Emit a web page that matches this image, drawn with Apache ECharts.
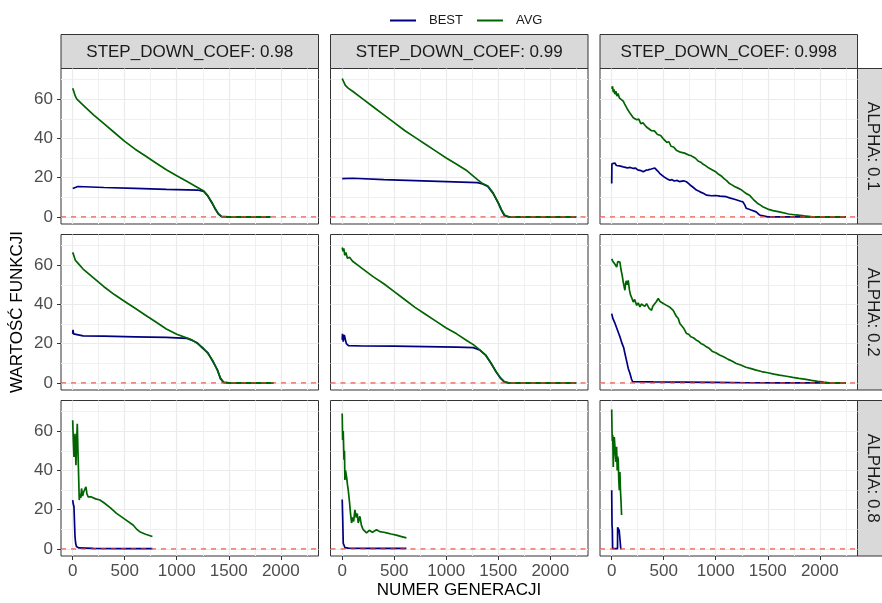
<!DOCTYPE html>
<html>
<head>
<meta charset="utf-8">
<script src="https://cdn.jsdelivr.net/npm/echarts@6/dist/echarts.min.js"></script>
<style>
  html, body { margin: 0; padding: 0; background: #fff; }
  #chart { width: 882px; height: 603px; }
</style>
</head>
<body>
<div id="chart"></div>
<script>
const colLabels = ['STEP_DOWN_COEF: 0.98', 'STEP_DOWN_COEF: 0.99', 'STEP_DOWN_COEF: 0.998']
const rowLabels = ['ALPHA: 0.1', 'ALPHA: 0.2', 'ALPHA: 0.8']
const xTicks = [0, 500, 1000, 1500, 2000]
const xMinorTicks = [250, 750, 1250, 1750, 2250]
const yTicks = [0, 20, 40, 60]
const yMinorTicks = [10, 30, 50, 70]
const refLevel = 0

// [numer generacji, wartosc funkcji]
const best_098_01 = [[0, 14.5], [5, 15.5], [50, 15.5], [300, 15], [600, 14.5], [900, 14], [1200, 13.7], [1260, 13], [1300, 10.5], [1340, 7], [1370, 4], [1400, 1.5], [1430, 0.2], [1500, 0], [1900, 0]]
const avg_098_01 = [[0, 65.5], [10, 64], [25, 61.5], [40, 60], [100, 57], [200, 52], [300, 47.5], [400, 43], [500, 38.5], [600, 34.5], [700, 31], [800, 27.5], [900, 24], [1000, 21], [1100, 18], [1200, 15], [1260, 13.2], [1300, 10.7], [1340, 7.2], [1370, 4.2], [1400, 1.7], [1430, 0.3], [1500, 0], [1900, 0]]

const best_099_01 = [[0, 19.5], [5, 20], [100, 19.7], [400, 19], [700, 18.5], [1000, 18], [1300, 17.5], [1350, 16.8], [1400, 15.5], [1450, 12], [1500, 7], [1530, 3.5], [1560, 0.6], [1600, 0], [2250, 0]]
const avg_099_01 = [[0, 70.5], [10, 69.5], [30, 67], [60, 65.5], [100, 64], [200, 60], [300, 56], [400, 52], [500, 48], [600, 44], [700, 40.5], [800, 37], [900, 33.5], [1000, 30], [1100, 26.8], [1200, 23.5], [1300, 19], [1350, 17], [1400, 15.8], [1450, 12.3], [1500, 7.3], [1530, 3.8], [1560, 1], [1600, 0.1], [1700, 0], [2250, 0]]

const best_0998_01 = [[0, 17], [2, 27], [20, 26.5], [30, 27.5], [45, 26.2], [60, 27], [75, 26], [90, 27], [111, 25.5], [130, 25.8], [150, 25], [180, 25.2], [207, 24.7], [230, 24.9], [250, 24], [280, 23.6], [303, 23], [330, 23.8], [350, 24], [380, 24.4], [415, 24.9], [440, 23.5], [463, 22.1], [480, 21.4], [500, 20.5], [515, 20.9], [530, 19.5], [559, 18.7], [580, 19], [600, 18.3], [630, 18.6], [650, 18], [690, 18.4], [718, 17.9], [740, 17], [760, 16], [785, 15], [814, 13.7], [840, 13.1], [860, 12.5], [885, 11.9], [910, 11.1], [960, 10.8], [1000, 10.9], [1040, 10.6], [1070, 10.5], [1101, 10.3], [1140, 9.6], [1180, 9], [1240, 8], [1261, 7.7], [1280, 6], [1293, 4.4], [1340, 3.5], [1388, 2.6], [1420, 1], [1436, 0.1], [1500, 0], [2250, 0]]
const avg_0998_01 = [[0, 65.3], [8, 66.5], [15, 63.5], [22, 65], [30, 62.5], [40, 64], [50, 61.5], [60, 62.8], [75, 60.5], [90, 61], [111, 59], [125, 57.5], [135, 58.5], [150, 55], [165, 55.8], [180, 52.5], [195, 53], [207, 50.5], [220, 51.5], [240, 49.5], [260, 49.8], [280, 47.5], [300, 48], [334, 45.8], [350, 46.2], [380, 44], [410, 43.8], [440, 42], [470, 41.5], [494, 39.9], [510, 40.2], [530, 38], [550, 38.3], [570, 36], [595, 35.6], [621, 34], [640, 33.8], [660, 33], [700, 32.5], [740, 31.5], [760, 31.3], [781, 30.6], [805, 29.9], [830, 28.5], [855, 27.9], [880, 26.8], [905, 26], [930, 25], [972, 23.8], [1000, 23], [1020, 22], [1050, 21], [1080, 19.5], [1105, 18.5], [1132, 17], [1160, 16.2], [1180, 15.5], [1210, 14.8], [1240, 14], [1265, 13], [1290, 12], [1324, 11.1], [1360, 9], [1400, 7], [1430, 6], [1452, 5.2], [1500, 4], [1550, 3.2], [1612, 2.6], [1700, 1.5], [1771, 1], [1850, 0.5], [1931, 0.1], [2000, 0], [2250, 0]]

const best_098_02 = [[0, 25], [3, 27], [8, 25], [15, 24.3], [100, 24], [300, 23.8], [600, 23.5], [900, 23.2], [1100, 22.7], [1150, 21.6], [1200, 20.3], [1250, 17.6], [1300, 15.3], [1350, 10.6], [1390, 6.8], [1420, 2.2], [1450, 0.3], [1500, 0], [1930, 0]]
const avg_098_02 = [[0, 66.5], [10, 65], [25, 62.5], [50, 61], [100, 58], [200, 53.5], [300, 49], [400, 45], [500, 41.5], [600, 38], [700, 34.5], [800, 31], [900, 27.5], [1000, 24.8], [1100, 22.8], [1150, 21.8], [1200, 20], [1250, 18], [1300, 15], [1350, 11], [1390, 6.5], [1420, 2.5], [1450, 0.3], [1500, 0], [1930, 0]]

const best_099_02 = [[0, 22], [3, 25], [10, 21], [20, 24.5], [40, 20], [60, 19], [200, 18.8], [500, 18.7], [800, 18.5], [1100, 18.2], [1260, 18], [1320, 16.8], [1380, 14], [1430, 10], [1480, 5.5], [1520, 2.5], [1560, 0.4], [1600, 0], [2250, 0]]
const avg_099_02 = [[0, 69], [8, 67], [15, 68.5], [25, 65], [35, 66.5], [50, 63.5], [70, 64], [100, 62], [150, 60], [200, 58], [300, 54], [400, 50.5], [500, 46.5], [600, 42.5], [700, 38.5], [800, 35], [900, 31.5], [1000, 28], [1100, 25], [1200, 21.5], [1260, 19.5], [1320, 17], [1380, 14.2], [1430, 10.2], [1480, 5.7], [1520, 2.7], [1560, 0.6], [1600, 0], [2250, 0]]

const best_0998_02 = [[0, 35.3], [10, 33], [32, 30.3], [55, 27], [79, 23.5], [100, 20], [115, 18], [127, 15], [140, 12], [159, 7.4], [175, 4.9], [190, 2], [201, 0.6], [400, 0.5], [700, 0.4], [1000, 0.3], [1300, 0.1], [1600, 0], [2250, 0]]
const avg_0998_02 = [[0, 63.2], [10, 62], [20, 61], [35, 60.2], [48, 59], [58, 61.8], [65, 62], [79, 61.5], [90, 57.5], [100, 55], [112, 51], [127, 47.2], [133, 50.5], [140, 52], [150, 50], [159, 52.2], [170, 47.5], [180, 45], [195, 43], [207, 41.2], [220, 42.5], [240, 39.5], [255, 40.8], [271, 38.7], [285, 40.2], [300, 41], [318, 39], [335, 40.4], [350, 39.6], [360, 38], [383, 37], [395, 39], [410, 40], [430, 41.5], [447, 43], [465, 41.5], [480, 41], [500, 40.3], [527, 39.5], [545, 39.2], [560, 38.5], [575, 38.9], [591, 37], [605, 35.5], [620, 34], [640, 32.8], [655, 30.3], [670, 30], [690, 28], [705, 27], [718, 25.2], [740, 24.8], [760, 23.5], [785, 23], [814, 21.8], [835, 21.2], [860, 20], [885, 19.4], [910, 18.4], [940, 17.5], [970, 16], [1000, 15.4], [1037, 14.2], [1080, 13.2], [1120, 12], [1160, 11], [1197, 9.9], [1240, 9.1], [1290, 8], [1340, 7.3], [1388, 6.5], [1440, 5.8], [1500, 5.2], [1560, 4.5], [1612, 4], [1680, 3.4], [1740, 2.8], [1800, 2.3], [1867, 1.8], [1920, 1.3], [1980, 0.8], [2040, 0.4], [2090, 0.1], [2250, 0]]

const best_098_08 = [[0, 24.9], [5, 23], [12, 21.5], [17, 14], [22, 6.3], [28, 3], [36, 1.2], [60, 0.5], [200, 0.3], [500, 0.2], [766, 0.2]]
const avg_098_08 = [[0, 65.5], [6, 55], [12, 46.8], [17, 52], [22, 58.7], [27, 50], [31, 42.6], [38, 55], [44, 63.8], [48, 55], [53, 45.1], [58, 35], [63, 24.9], [70, 28], [78, 26], [85, 30.8], [95, 27], [105, 29], [117, 28.3], [127, 31.6], [137, 28], [149, 26.5], [180, 26.5], [220, 25.5], [261, 24.9], [300, 23.5], [360, 21], [421, 18.1], [500, 15.2], [580, 12.2], [620, 9.8], [644, 8.8], [700, 7.5], [766, 6.3]]

const best_099_08 = [[0, 25.2], [5, 15], [10, 2.9], [26, 0.7], [60, 0.4], [300, 0.3], [617, 0.3]]
const avg_099_08 = [[0, 69], [4, 55.5], [10, 60], [17, 45.4], [22, 50], [26, 35.1], [32, 40], [42, 36.7], [50, 33], [58, 30], [70, 24], [80, 18], [90, 13.2], [100, 16], [110, 14], [122, 19.9], [135, 16], [145, 18], [154, 13.2], [162, 15], [170, 16.6], [185, 12], [200, 10], [234, 8.2], [260, 9.5], [290, 8.5], [330, 9.8], [360, 8.8], [400, 8.5], [426, 8.2], [470, 7.6], [520, 7], [570, 6.3], [617, 5.6]]

const best_0998_08 = [[0, 29.9], [3, 12], [6, 10], [9, 0.2], [56, 0.2], [57, 11], [65, 10.5], [72, 9.5], [80, 10], [86, 9.5], [87, 0.2], [95, 0.2]]
const avg_0998_08 = [[0, 71], [3, 60], [6, 55], [10, 58], [15, 41.8], [20, 50], [25, 57], [31, 56.2], [36, 48], [41, 44.3], [47, 52], [53, 40], [58, 47], [63, 45.1], [68, 35], [73, 29.9], [79, 39.2], [84, 30], [89, 24.9], [95, 17.3]]

// wiersze: ALPHA, kolumny: STEP_DOWN_COEF
const panels = [
  [[best_098_01, avg_098_01], [best_099_01, avg_099_01], [best_0998_01, avg_0998_01]],
  [[best_098_02, avg_098_02], [best_099_02, avg_099_02], [best_0998_02, avg_0998_02]],
  [[best_098_08, avg_098_08], [best_099_08, avg_099_08], [best_0998_08, avg_0998_08]]
]

const FONT = 'Liberation Sans, Arial, sans-serif'
const colLeft = [61, 330.5, 600]
const rowTop = [68.5, 234.5, 400.5]
const panelW = 257.5
const panelH = 155.5
const xRange = [-112.5, 2362.5]
const yRange = [-3.6, 75.6]

const grid = []
const xAxis = []
const yAxis = []
const series = []
const graphic = []

for (let r = 0; r < 3; r++) {
  for (let c = 0; c < 3; c++) {
    const g = grid.length
    grid.push({
      left: colLeft[c],
      top: rowTop[r],
      width: panelW,
      height: panelH,
      show: true,
      backgroundColor: '#fff',
      borderColor: '#333',
      borderWidth: 1
    })
    xAxis.push({
      gridIndex: g,
      type: 'value',
      min: xRange[0],
      max: xRange[1],
      axisLine: { show: false, onZero: false },
      axisTick: { show: r === 2, length: 4, lineStyle: { color: '#333' }, customValues: xTicks },
      axisLabel: { show: r === 2, customValues: xTicks, formatter: (v) => String(v), margin: 7, color: '#4D4D4D', fontSize: 17, fontFamily: FONT },
      splitLine: { show: true, lineStyle: { color: '#EBEBEB', width: 1.2 } }
    })
    xAxis.push({
      gridIndex: g,
      type: 'value',
      min: xRange[0],
      max: xRange[1],
      axisLine: { show: false, onZero: false },
      axisTick: { show: false, customValues: xMinorTicks },
      axisLabel: { show: false },
      splitLine: { show: true, lineStyle: { color: '#F0F0F0', width: 1 } }
    })
    yAxis.push({
      gridIndex: g,
      type: 'value',
      min: yRange[0],
      max: yRange[1],
      axisLine: { show: false, onZero: false },
      axisTick: { show: c === 0, length: 4, lineStyle: { color: '#333' }, customValues: yTicks },
      axisLabel: { show: c === 0, customValues: yTicks, margin: 8, color: '#4D4D4D', fontSize: 17, fontFamily: FONT },
      splitLine: { show: true, lineStyle: { color: '#EBEBEB', width: 1.2 } }
    })
    yAxis.push({
      gridIndex: g,
      type: 'value',
      min: yRange[0],
      max: yRange[1],
      axisLine: { show: false, onZero: false },
      axisTick: { show: false, customValues: yMinorTicks },
      axisLabel: { show: false },
      splitLine: { show: true, lineStyle: { color: '#F0F0F0', width: 1 } }
    })
    const [best, avg] = panels[r][c]
    series.push({
      name: 'BEST',
      type: 'line',
      xAxisIndex: 2 * g,
      yAxisIndex: 2 * g,
      data: best,
      symbol: 'none',
      color: '#000080',
      lineStyle: { color: '#000080', width: 1.7 },
      z: 3
    })
    series.push({
      name: 'AVG',
      type: 'line',
      xAxisIndex: 2 * g,
      yAxisIndex: 2 * g,
      data: avg,
      symbol: 'none',
      color: '#006400',
      lineStyle: { color: '#006400', width: 1.7 },
      z: 4
    })
    // przerywana linia odniesienia y = 0
    series.push({
      name: 'ZERO',
      type: 'line',
      xAxisIndex: 2 * g,
      yAxisIndex: 2 * g,
      data: [[xRange[0], refLevel], [xRange[1], refLevel]],
      symbol: 'none',
      silent: true,
      color: '#E8453C',
      lineStyle: { color: '#E8453C', type: [5, 5], width: 1.3, opacity: 0.85 },
      z: 5
    })
  }
}

// paski z opisem kolumn (u gory)
for (let c = 0; c < 3; c++) {
  graphic.push({
    type: 'rect',
    shape: { x: colLeft[c], y: 34.5, width: panelW, height: 34 },
    style: { fill: '#D9D9D9', stroke: '#333', lineWidth: 1 }
  })
  graphic.push({
    type: 'text',
    x: colLeft[c] + panelW / 2,
    y: 52,
    style: { text: colLabels[c], fill: '#1A1A1A', font: '17px ' + FONT, textAlign: 'center', textVerticalAlign: 'middle' }
  })
}
// paski z opisem wierszy (z prawej)
for (let r = 0; r < 3; r++) {
  graphic.push({
    type: 'rect',
    shape: { x: 857.5, y: rowTop[r], width: 36, height: panelH },
    style: { fill: '#D9D9D9', stroke: '#333', lineWidth: 1 }
  })
  graphic.push({
    type: 'text',
    x: 873,
    y: rowTop[r] + panelH / 2,
    rotation: -Math.PI / 2,
    style: { text: rowLabels[r], fill: '#1A1A1A', font: '17px ' + FONT, textAlign: 'center', textVerticalAlign: 'middle' }
  })
}
graphic.push({
  type: 'text',
  x: 459,
  y: 590,
  style: { text: 'NUMER GENERACJI', fill: '#000', font: '17px ' + FONT, textAlign: 'center', textVerticalAlign: 'middle' }
})
graphic.push({
  type: 'text',
  x: 17,
  y: 312,
  rotation: Math.PI / 2,
  style: { text: 'WARTOŚĆ FUNKCJI', fill: '#000', font: '17px ' + FONT, textAlign: 'center', textVerticalAlign: 'middle' }
})

const chart = echarts.init(document.getElementById('chart'), null, { renderer: 'canvas' })
chart.setOption({
  animation: false,
  backgroundColor: '#fff',
  legend: {
    data: ['BEST', 'AVG'],
    left: 385,
    top: 9,
    icon: 'rect',
    itemWidth: 26,
    itemHeight: 2,
    itemGap: 14,
    textStyle: { fontSize: 13, color: '#1A1A1A', fontFamily: FONT, padding: [0, 0, 0, 8] }
  },
  grid,
  xAxis,
  yAxis,
  series,
  graphic
})
</script>
</body>
</html>
